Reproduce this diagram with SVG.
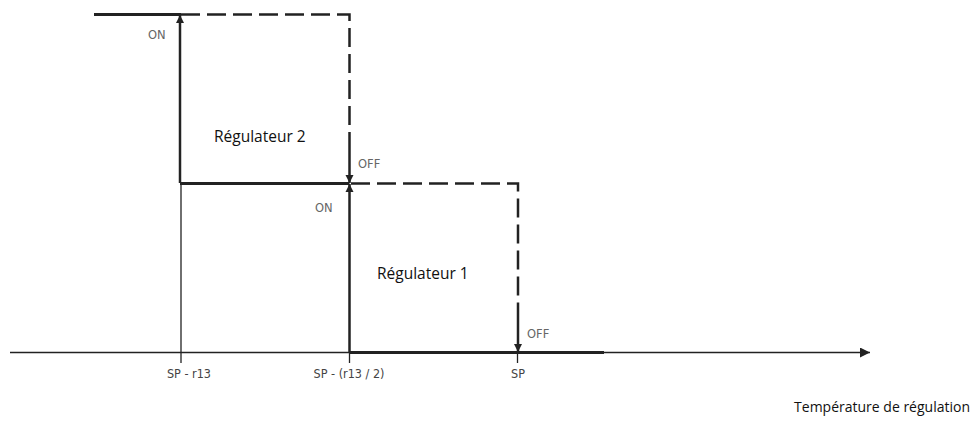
<svg xmlns="http://www.w3.org/2000/svg" width="977" height="423" viewBox="0 0 977 423">
  <defs>
    <marker id="arr" viewBox="0 0 10 10" refX="10" refY="5" markerWidth="8" markerHeight="9" markerUnits="userSpaceOnUse" orient="auto">
      <path d="M0,0 L10,5 L0,10 z" fill="#222"/>
    </marker>
    <marker id="axisArr" viewBox="0 0 10 10" refX="10" refY="5" markerWidth="16" markerHeight="10" markerUnits="userSpaceOnUse" orient="auto">
      <path d="M0,0 L10,5 L0,10 z" fill="#222"/>
    </marker>
  </defs>
  <style>
    .thick { stroke: #222; stroke-width: 3; fill: none; }
    .dash { stroke: #222; stroke-width: 2.5; fill: none; stroke-dasharray: 19 7; }
    .thin { stroke: #222; stroke-width: 1.3; fill: none; }
    .arrow { stroke: #222; stroke-width: 2.5; fill: none; }
    .small { font-family: "DejaVu Sans", Verdana, sans-serif; font-size: 11.5px; fill: #666; }
    .axislbl { font-family: "DejaVu Sans Condensed", "DejaVu Sans", sans-serif; font-size: 12.5px; fill: #444; }
    .reg { font-family: "Open Sans", "Liberation Sans", sans-serif; font-size: 15.5px; fill: #111; }
    .title { font-family: "Open Sans", "Liberation Sans", sans-serif; font-size: 14px; fill: #111; }
  </style>

  <!-- temperature axis -->
  <g id="axis">
    <line class="thin" x1="10" y1="352.5" x2="870" y2="352.5" marker-end="url(#axisArr)"/>
    <line class="thin" x1="181" y1="183" x2="181" y2="363"/>
    <line class="thin" x1="349.5" y1="352" x2="349.5" y2="363"/>
    <line class="thin" x1="517.5" y1="352" x2="517.5" y2="363"/>
    <text class="axislbl" x="189" y="378" text-anchor="middle">SP - r13</text>
    <text class="axislbl" x="349" y="378" text-anchor="middle">SP - (r13 / 2)</text>
    <text class="axislbl" x="518" y="378" text-anchor="middle">SP</text>
    <text class="title" x="970" y="412" text-anchor="end">Température de régulation</text>
  </g>

  <!-- controller 2 -->
  <g id="regulateur2">
    <line class="thick" x1="94" y1="14.5" x2="181" y2="14.5"/>
    <path class="dash" d="M181,14.5 H349.5 V150"/>
    <line class="arrow" x1="349.5" y1="150" x2="349.5" y2="183" marker-end="url(#arr)"/>
    <line class="arrow" x1="180" y1="183" x2="180" y2="15" marker-end="url(#arr)"/>
    <line class="thick" x1="180" y1="183.5" x2="349.5" y2="183.5"/>
    <text class="small" x="148" y="39">ON</text>
    <text class="small" x="358" y="168">OFF</text>
    <text class="reg" x="214" y="142">Régulateur 2</text>
  </g>

  <!-- controller 1 -->
  <g id="regulateur1">
    <path class="dash" d="M351,183.5 H518 V320"/>
    <line class="arrow" x1="518" y1="320" x2="518" y2="352" marker-end="url(#arr)"/>
    <line class="arrow" x1="349.5" y1="352" x2="349.5" y2="184" marker-end="url(#arr)"/>
    <line class="thick" x1="349.5" y1="352.5" x2="604" y2="352.5"/>
    <text class="small" x="315" y="212">ON</text>
    <text class="small" x="527" y="338">OFF</text>
    <text class="reg" x="377" y="279">Régulateur 1</text>
  </g>
</svg>
